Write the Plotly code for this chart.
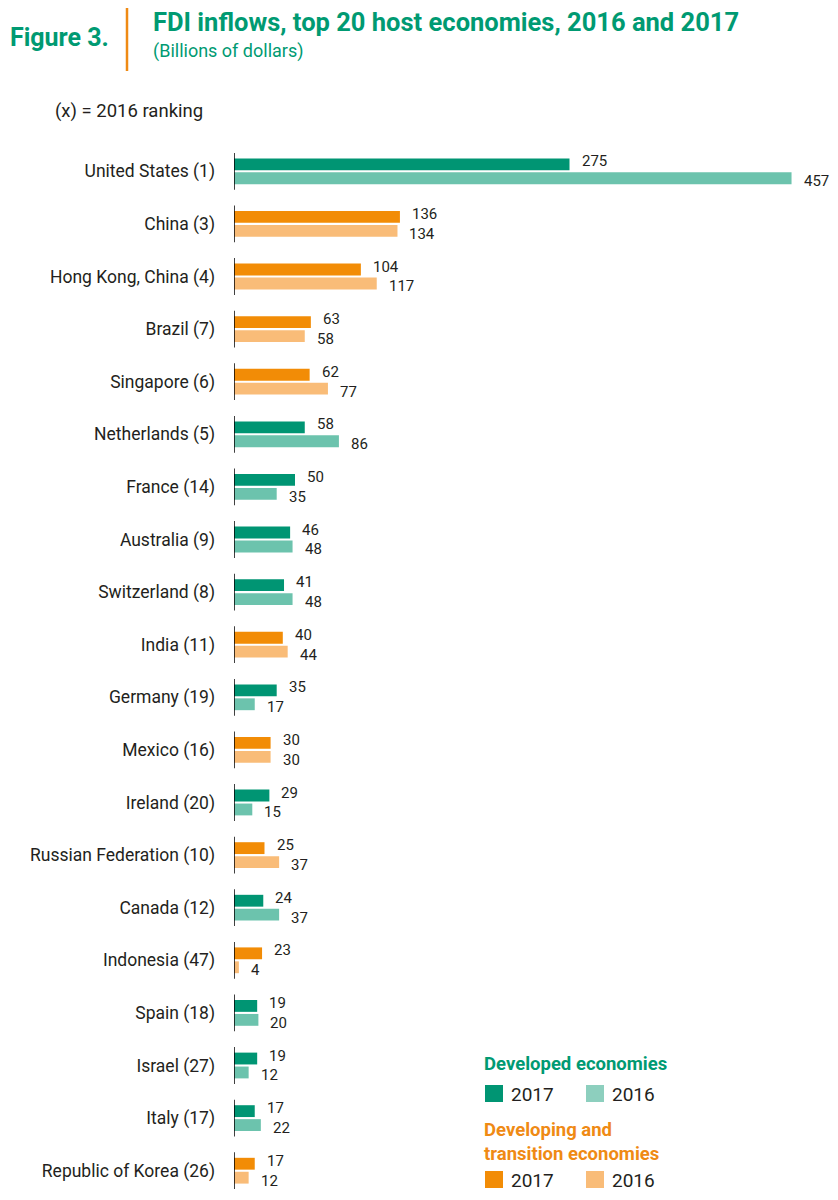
import plotly.graph_objects as go

# data
economies = [
    "United States (1)", "China (3)", "Hong Kong, China (4)", "Brazil (7)",
    "Singapore (6)", "Netherlands (5)", "France (14)", "Australia (9)",
    "Switzerland (8)", "India (11)", "Germany (19)", "Mexico (16)",
    "Ireland (20)", "Russian Federation (10)", "Canada (12)", "Indonesia (47)",
    "Spain (18)", "Israel (27)", "Italy (17)", "Republic of Korea (26)",
]
fdi_2017 = [275, 136, 104, 63, 62, 58, 50, 46, 41, 40, 35, 30, 29, 25, 24, 23, 19, 19, 17, 17]
fdi_2016 = [457, 134, 117, 58, 77, 86, 35, 48, 48, 44, 17, 30, 15, 37, 37, 4, 20, 12, 22, 12]
developed = [True, False, False, False, False, True, True, True, True, False,
             True, False, True, False, True, False, True, True, True, False]

DEV_17, DEV_16 = "#009573", "#6cc3ad"
DVG_17, DVG_16 = "#f28c06", "#f9bc78"
TITLE_GREEN = "#009a72"
ORANGE_TXT = "#ef8a14"
TXT = "#231f20"
FONT = "Roboto, Arial, sans-serif"

# page puts the figure 8px in from the corner (body margin), so work in page pixels
OFF = 8
L, T, PW, PH = 226, 137, 596, 1047
ROW_PX = 52.6      # pixels per economy
X_SCALE = 1.22     # pixels per billion
BARGAP = 0.47


def px_x(v):
    return (v - OFF - L) / PW


def px_y(v):
    return 1 - (v - OFF - T) / PH


col_17 = [DEV_17 if d else DVG_17 for d in developed]
col_16 = [DEV_16 if d else DVG_16 for d in developed]
ypos = list(range(len(economies)))
slot = (1 - BARGAP) / 2

fig = go.Figure()
for vals, cols, nm, off, ysh in [(fdi_2017, col_17, "2017", -slot / 2, 3),
                                  (fdi_2016, col_16, "2016", slot / 2, -3)]:
    fig.add_trace(go.Bar(
        y=ypos, x=vals, orientation="h", name=nm,
        marker=dict(color=cols, line=dict(width=0)),
    ))
    # value labels beside each bar
    for i, v in zip(ypos, vals):
        fig.add_annotation(x=v, y=i + off, xref="x", yref="y", text=str(v),
                           showarrow=False, xanchor="left", yanchor="middle",
                           xshift=10, yshift=ysh,
                           font=dict(size=15, color=TXT, family=FONT))

# short axis segment for each economy
for i in ypos:
    fig.add_shape(type="line", xref="x", yref="y", x0=0, x1=0,
                  y0=i - 0.35, y1=i + 0.35, line=dict(color="#000000", width=1.5))

# header
fig.add_annotation(xref="paper", yref="paper", x=px_x(8), y=px_y(38),
                   xanchor="left", yanchor="middle", showarrow=False,
                   text="<b>Figure 3.</b>", font=dict(size=25, color=TITLE_GREEN, family=FONT))
fig.add_shape(type="line", xref="paper", yref="paper",
              x0=px_x(127), x1=px_x(127), y0=px_y(8), y1=px_y(71),
              line=dict(color=ORANGE_TXT, width=2.5))
fig.add_annotation(xref="paper", yref="paper", x=px_x(151), y=px_y(22),
                   xanchor="left", yanchor="middle", showarrow=False,
                   text="<b>FDI inflows, top 20 host economies, 2016 and 2017</b>",
                   font=dict(size=25.5, color=TITLE_GREEN, family=FONT))
fig.add_annotation(xref="paper", yref="paper", x=px_x(151), y=px_y(51),
                   xanchor="left", yanchor="middle", showarrow=False,
                   text="(Billions of dollars)",
                   font=dict(size=18, color=TITLE_GREEN, family=FONT))
fig.add_annotation(xref="paper", yref="paper", x=px_x(53), y=px_y(111),
                   xanchor="left", yanchor="middle", showarrow=False,
                   text="(x) = 2016 ranking",
                   font=dict(size=18.5, color=TXT, family=FONT))

# legend drawn by hand
legend_rows = [
    ("<b>Developed economies</b>", TITLE_GREEN, 1064, 1094, DEV_17, "#8dcfbe"),
    ("<b>Developing and<br>transition economies</b>", ORANGE_TXT, 1142, 1180, DVG_17, DVG_16),
]
for title, tcol, ty, sy, c17, c16 in legend_rows:
    fig.add_annotation(xref="paper", yref="paper", x=px_x(482), y=px_y(ty),
                       xanchor="left", yanchor="middle", showarrow=False, align="left",
                       text=title, font=dict(size=18.5, color=tcol, family=FONT))
    for sx, c, lab in [(485, c17, "2017"), (586, c16, "2016")]:
        fig.add_shape(type="rect", xref="paper", yref="paper",
                      x0=px_x(sx), x1=px_x(sx + 18), y0=px_y(sy - 9), y1=px_y(sy + 8),
                      fillcolor=c, line=dict(width=0))
        fig.add_annotation(xref="paper", yref="paper", x=px_x(sx + 24), y=px_y(sy),
                           xanchor="left", yanchor="middle", showarrow=False,
                           text=lab, font=dict(size=19, color=TXT, family=FONT))

fig.update_layout(
    width=L + PW, height=T + PH,
    margin=dict(l=L, r=0, t=T, b=0),
    paper_bgcolor="white", plot_bgcolor="white",
    barmode="group", bargap=BARGAP, bargroupgap=0.15,
    showlegend=False,
    font=dict(family=FONT, color=TXT),
    xaxis=dict(range=[0, PW / X_SCALE], visible=False, fixedrange=True),
    yaxis=dict(
        range=[-0.5 + PH / ROW_PX, -0.5], tickmode="array", tickvals=ypos, ticktext=economies,
        showline=False, showgrid=False, zeroline=False, ticks="",
        ticklabelstandoff=18, tickfont=dict(size=17.5, color=TXT, family=FONT),
    ),
)

fig.write_html("out.html")
